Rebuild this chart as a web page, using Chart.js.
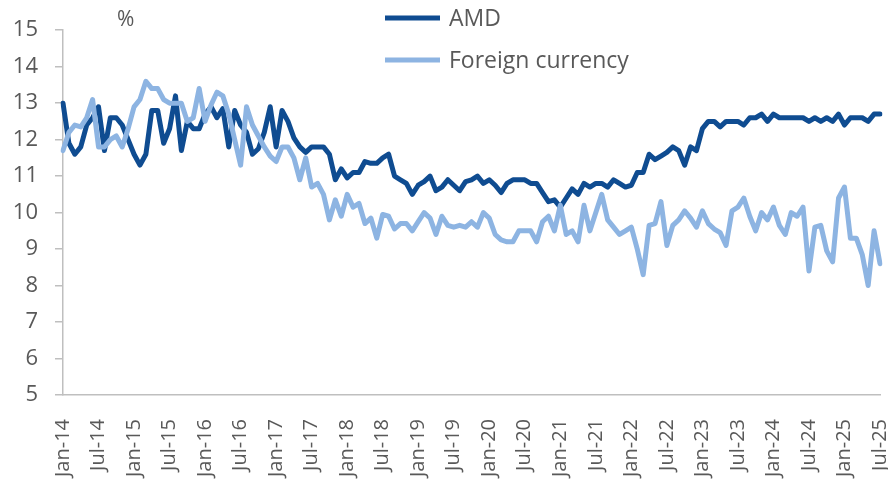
<!DOCTYPE html>
<html lang="en">
<head>
    <meta charset="UTF-8">
    <title>Interest rates, AMD vs foreign currency</title>
    <style>
        html, body { margin: 0; padding: 0; background: #ffffff; }
        #wrap { width: 888px; height: 482px; position: relative; }
    </style>
    <script src="https://cdn.jsdelivr.net/npm/chart.js"></script>
</head>
<body>
    <div id="wrap"><canvas id="rates"></canvas></div>

    <script>
        // month names and years used for the category axis (Jan-14 .. Jul-25)
        const monthNames = ['Jan', 'Feb', 'Mar', 'Apr', 'May', 'Jun', 'Jul', 'Aug', 'Sep', 'Oct', 'Nov', 'Dec'];
        const firstYear = 14;
        const lastYear = 25;
        const lastMonthOfLastYear = 7;

        // AMD rate, %, monthly
        const amdRates = [
            13.0, 11.9, 11.6, 11.8, 12.4, 12.6, 12.9, 11.7, 12.6, 12.6, 12.4, 12.0,
            11.6, 11.3, 11.6, 12.8, 12.8, 11.9, 12.3, 13.2, 11.7, 12.5, 12.3, 12.3,
            12.7, 12.9, 12.6, 12.85, 11.8, 12.8, 12.4, 12.2, 11.6, 11.75, 12.2, 12.9,
            11.8, 12.8, 12.5, 12.05, 11.8, 11.65, 11.8, 11.8, 11.8, 11.6, 10.9, 11.2,
            10.95, 11.1, 11.1, 11.4, 11.35, 11.35, 11.5, 11.6, 11.0, 10.9, 10.8, 10.5,
            10.75, 10.85, 11.0, 10.6, 10.7, 10.9, 10.75, 10.6, 10.85, 10.9, 11.0, 10.8,
            10.9, 10.75, 10.55, 10.8, 10.9, 10.9, 10.9, 10.8, 10.8, 10.55, 10.3, 10.35,
            10.15, 10.4, 10.65, 10.5, 10.8, 10.7, 10.8, 10.8, 10.7, 10.9, 10.8, 10.7,
            10.75, 11.1, 11.1, 11.6, 11.45, 11.55, 11.65, 11.8, 11.7, 11.3, 11.8, 11.7,
            12.3, 12.5, 12.5, 12.35, 12.5, 12.5, 12.5, 12.4, 12.6, 12.6, 12.7, 12.5,
            12.7, 12.6, 12.6, 12.6, 12.6, 12.6, 12.5, 12.6, 12.5, 12.6, 12.5, 12.7,
            12.4, 12.6, 12.6, 12.6, 12.5, 12.7, 12.7
        ];

        // foreign currency rate, %, monthly
        const fxRates = [
            11.7, 12.2, 12.4, 12.35, 12.6, 13.1, 11.8, 11.8, 12.0, 12.1, 11.8, 12.3,
            12.9, 13.1, 13.6, 13.4, 13.4, 13.1, 13.0, 13.0, 13.0, 12.5, 12.6, 13.4,
            12.5, 12.95, 13.3, 13.2, 12.7, 12.0, 11.3, 12.9, 12.4, 12.1, 11.8, 11.55,
            11.4, 11.8, 11.8, 11.5, 10.9, 11.5, 10.7, 10.8, 10.5, 9.8, 10.35, 9.9,
            10.5, 10.15, 10.25, 9.7, 9.85, 9.3, 9.95, 9.9, 9.55, 9.7, 9.7, 9.5,
            9.75, 10.0, 9.85, 9.4, 9.9, 9.65, 9.6, 9.65, 9.6, 9.75, 9.6, 10.0,
            9.85, 9.4, 9.25, 9.2, 9.2, 9.5, 9.5, 9.5, 9.2, 9.75, 9.9, 9.5,
            10.2, 9.4, 9.5, 9.2, 10.2, 9.5, 10.0, 10.5, 9.8, 9.6, 9.4, 9.5,
            9.6, 9.0, 8.3, 9.65, 9.7, 10.3, 9.1, 9.65, 9.8, 10.05, 9.85, 9.6,
            10.05, 9.7, 9.55, 9.45, 9.1, 10.05, 10.15, 10.4, 9.9, 9.5, 10.0, 9.8,
            10.15, 9.65, 9.4, 10.0, 9.9, 10.15, 8.4, 9.6, 9.65, 8.95, 8.65, 10.4,
            10.7, 9.3, 9.3, 8.85, 8.0, 9.5, 8.6
        ];

        const seriesNames = ['AMD', 'Foreign currency'];
        const unitLabel = '%';

        const DARK = '#0f4c91';
        const LIGHT = '#8db4e2';
        const TEXT = '#595959';
        const AXIS = '#bfbfbf';
        const FONT = "'Open Sans', sans-serif";

        // build the category labels
        const categories = [];
        for (let y = firstYear; y <= lastYear; y++) {
            const lastM = (y === lastYear) ? lastMonthOfLastYear : 12;
            for (let m = 0; m < lastM; m++) {
                categories.push(monthNames[m] + '-' + y);
            }
        }

        // legend stacked at the top and the "%" unit label, drawn on the canvas
        const topLabels = {
            id: 'topLabels',
            afterDraw(chart) {
                const ctx = chart.ctx;
                ctx.save();
                ctx.font = '23px ' + FONT;
                ctx.textBaseline = 'middle';
                ctx.lineCap = 'butt';
                const rows = [18, 60];
                chart.data.datasets.forEach((ds, i) => {
                    ctx.strokeStyle = ds.borderColor;
                    ctx.lineWidth = 5;
                    ctx.beginPath();
                    ctx.moveTo(385, rows[i]);
                    ctx.lineTo(440, rows[i]);
                    ctx.stroke();
                    ctx.fillStyle = TEXT;
                    ctx.fillText(ds.label, 449, rows[i] + 1);
                });
                ctx.font = '21px ' + FONT;
                ctx.fillText(unitLabel, 117, 20);
                ctx.restore();
            }
        };

        new Chart(document.getElementById('rates'), {
            type: 'line',
            data: {
                labels: categories,
                datasets: [
                    {
                        label: seriesNames[0],
                        data: amdRates,
                        borderColor: DARK,
                        borderWidth: 5,
                        order: 1
                    },
                    {
                        label: seriesNames[1],
                        data: fxRates,
                        borderColor: LIGHT,
                        borderWidth: 5,
                        order: 0
                    }
                ]
            },
            options: {
                responsive: true,
                maintainAspectRatio: false,
                animation: false,
                layout: { padding: { top: 27, right: 8, left: 0, bottom: 0 } },
                elements: {
                    point: { radius: 0 },
                    line: { tension: 0, borderJoinStyle: 'round', borderCapStyle: 'round', fill: false }
                },
                plugins: {
                    legend: { display: false },
                    tooltip: { enabled: false }
                },
                scales: {
                    x: {
                        offset: false,
                        grid: { display: false },
                        border: { display: true, color: AXIS, width: 1.5 },
                        ticks: {
                            autoSkip: false,
                            minRotation: 90,
                            maxRotation: 90,
                            padding: 16,
                            color: TEXT,
                            font: { family: FONT, size: 20 },
                            callback: function (value, index) {
                                return index % 6 === 0 ? this.getLabelForValue(value) : '';
                            }
                        },
                        afterFit(scale) {
                            scale.height = 87;
                            // let the plot run to the right edge like the original
                            scale.paddingLeft = 0;
                            scale.paddingRight = 0;
                        }
                    },
                    y: {
                        min: 5,
                        max: 15,
                        grid: {
                            drawOnChartArea: false,
                            drawTicks: true,
                            tickLength: 8,
                            color: AXIS,
                            lineWidth: 1.5
                        },
                        border: { display: true, color: AXIS, width: 1.5 },
                        ticks: {
                            stepSize: 1,
                            padding: 17,
                            color: TEXT,
                            font: { family: FONT, size: 22 }
                        },
                        afterFit(scale) { scale.width = 63; }
                    }
                }
            },
            plugins: [topLabels]
        });
    </script>
</body>
</html>
